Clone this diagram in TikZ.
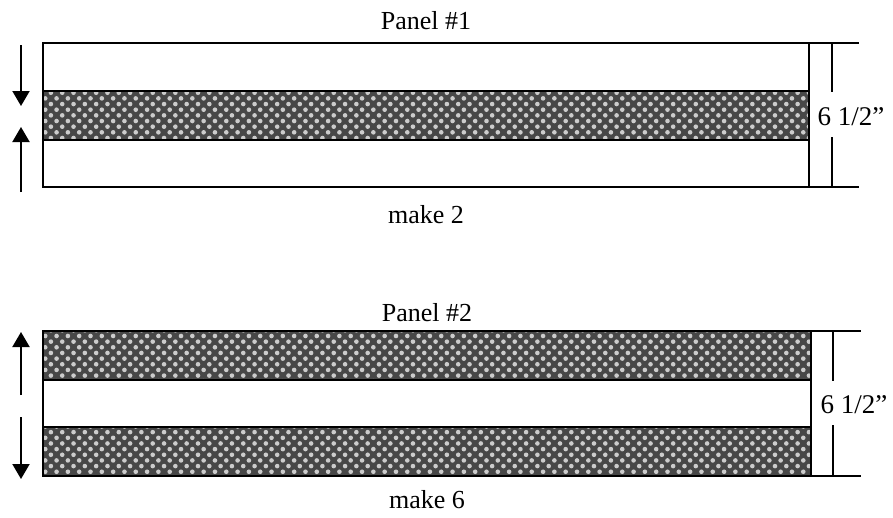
\documentclass[tikz,border=0pt]{standalone}
\usepackage{fontspec}
\setmainfont{Liberation Serif}
\usetikzlibrary{arrows.meta,patterns.meta}
\begin{document}
\begin{tikzpicture}[x=1pt,y=-1pt,
  edge/.style={line width=2.2pt,line cap=rect},
  bandfill/.style={fill=black!72},
  banddots/.style={pattern={Dots[distance=8pt,radius=2.3pt,angle=45]},pattern color=white!80!black},
  dimline/.style={line width=2.2pt},
  arr/.style={line width=2pt,-{Triangle[width=17pt,length=15pt]}},
  lbl/.style={font=\fontsize{26}{30}\selectfont,inner sep=0pt},
  dimlbl/.style={font=\fontsize{27}{30}\selectfont,inner sep=0pt}]
\useasboundingbox (0,0) rectangle (893,517);
% ---------- Panel 1 ----------
\node[lbl] (t1) at (426,21) {Panel \#1};
\fill[bandfill] (43,91) rectangle (809,140);
\fill[banddots] (43,91) rectangle (809,140);
\draw[edge] (43,91) -- (809,91);
\draw[edge] (43,140) -- (809,140);
\draw[edge] (43,43) -- (43,187);
\draw[edge] (809,43) -- (809,187);
\draw[edge] (43,43) -- (858,43);
\draw[edge] (43,187) -- (858,187);
\coordinate (d1t) at (832,43);
\coordinate (d1b) at (832,187);
\node[dimlbl] (m1) at (851,117) {6 1/2''};
\draw[dimline] (d1t) -- (832,92);
\draw[dimline] (832,137) -- (d1b);
\coordinate (a1s) at (21,45);
\coordinate (a1e) at (21,106);
\coordinate (a2s) at (21,192);
\coordinate (a2e) at (21,127);
\draw[arr] (a1s) -- (a1e);
\draw[arr] (a2s) -- (a2e);
\node[lbl] (k1) at (426,215) {make 2};
% ---------- Panel 2 ----------
\node[lbl] (t2) at (427,313) {Panel \#2};
\fill[bandfill] (43,331) rectangle (811,380);
\fill[banddots] (43,331) rectangle (811,380);
\fill[bandfill] (43,427) rectangle (811,476);
\fill[banddots] (43,427) rectangle (811,476);
\draw[edge] (43,380) -- (811,380);
\draw[edge] (43,427) -- (811,427);
\draw[edge] (43,331) -- (43,476);
\draw[edge] (811,331) -- (811,476);
\draw[edge] (43,331) -- (860,331);
\draw[edge] (43,476) -- (860,476);
\coordinate (d2t) at (833,331);
\coordinate (d2b) at (833,476);
\node[dimlbl] (m2) at (854,405) {6 1/2''};
\draw[dimline] (d2t) -- (833,381);
\draw[dimline] (833,425) -- (d2b);
\coordinate (b1s) at (21,395);
\coordinate (b1e) at (21,332);
\coordinate (b2s) at (21,417);
\coordinate (b2e) at (21,479);
\draw[arr] (b1s) -- (b1e);
\draw[arr] (b2s) -- (b2e);
\node[lbl] (k2) at (427,500) {make 6};
\end{tikzpicture}
\end{document}
